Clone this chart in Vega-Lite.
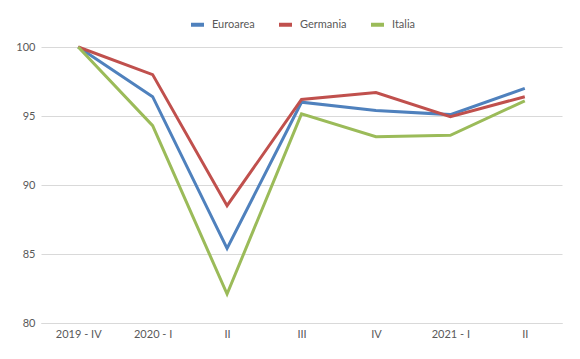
{
  "$schema": "https://vega.github.io/schema/vega-lite/v6.json",
  "width": 521,
  "height": 276,
  "autosize": {"type": "none"},
  "padding": {"left": 41, "top": 47, "right": 18, "bottom": 36},
  "background": "white",
  "config": {
    "font": "Lato",
    "view": {"stroke": null},
    "axis": {"labelFont": "Lato", "labelFontSize": 11, "labelColor": "#595959", "titleFont": "Lato"},
    "legend": {"labelFont": "Lato", "labelFontSize": 11, "labelColor": "#595959"}
  },
  "data": {
    "values": [
      {"q": "2019 - IV", "serie": "Euroarea", "v": 100},
      {"q": "2020 - I", "serie": "Euroarea", "v": 96.4},
      {"q": "2020 - II", "serie": "Euroarea", "v": 85.4},
      {"q": "2020 - III", "serie": "Euroarea", "v": 96.0},
      {"q": "2020 - IV", "serie": "Euroarea", "v": 95.4},
      {"q": "2021 - I", "serie": "Euroarea", "v": 95.1},
      {"q": "2021 - II", "serie": "Euroarea", "v": 97.0},
      {"q": "2019 - IV", "serie": "Germania", "v": 100},
      {"q": "2020 - I", "serie": "Germania", "v": 98.0},
      {"q": "2020 - II", "serie": "Germania", "v": 88.5},
      {"q": "2020 - III", "serie": "Germania", "v": 96.2},
      {"q": "2020 - IV", "serie": "Germania", "v": 96.7},
      {"q": "2021 - I", "serie": "Germania", "v": 94.95},
      {"q": "2021 - II", "serie": "Germania", "v": 96.4},
      {"q": "2019 - IV", "serie": "Italia", "v": 100},
      {"q": "2020 - I", "serie": "Italia", "v": 94.3},
      {"q": "2020 - II", "serie": "Italia", "v": 82.1},
      {"q": "2020 - III", "serie": "Italia", "v": 95.15},
      {"q": "2020 - IV", "serie": "Italia", "v": 93.5},
      {"q": "2021 - I", "serie": "Italia", "v": 93.6},
      {"q": "2021 - II", "serie": "Italia", "v": 96.1}
    ]
  },
  "mark": {"type": "line", "strokeWidth": 3, "strokeJoin": "miter"},
  "encoding": {
    "x": {
      "field": "q",
      "type": "ordinal",
      "sort": ["2019 - IV", "2020 - I", "2020 - II", "2020 - III", "2020 - IV", "2021 - I", "2021 - II"],
      "scale": {"type": "point", "padding": 0.5},
      "axis": {
        "title": null,
        "labelAngle": 0,
        "ticks": false,
        "domain": true,
        "domainColor": "#d9d9d9",
        "domainWidth": 1,
        "labelPadding": 5,
        "labelExpr": "datum.value == '2020 - II' || datum.value == '2021 - II' ? 'II' : datum.value == '2020 - III' ? 'III' : datum.value == '2020 - IV' ? 'IV' : datum.value"
      }
    },
    "y": {
      "field": "v",
      "type": "quantitative",
      "scale": {"domain": [80, 100], "nice": false, "zero": false},
      "axis": {
        "title": null,
        "values": [80, 85, 90, 95, 100],
        "ticks": false,
        "domain": false,
        "gridColor": "#d9d9d9",
        "gridWidth": 1,
        "labelPadding": 6
      }
    },
    "color": {
      "field": "serie",
      "type": "nominal",
      "scale": {"domain": ["Euroarea", "Germania", "Italia"], "range": ["#4F81BD", "#C0504D", "#9BBB59"]},
      "legend": {
        "title": null,
        "orient": "none",
        "direction": "horizontal",
        "legendX": 148,
        "legendY": -31,
        "symbolType": "stroke",
        "symbolStrokeWidth": 4,
        "symbolSize": 169,
        "labelOffset": 6,
        "columnPadding": 16
      }
    }
  }
}
